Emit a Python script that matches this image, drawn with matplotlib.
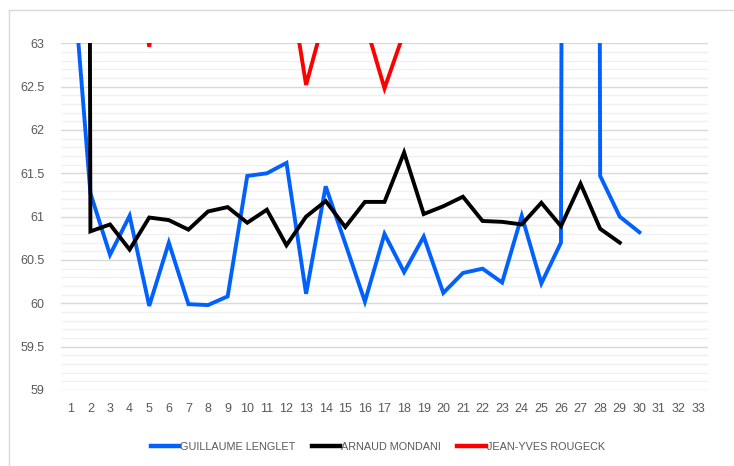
import numpy as np
import matplotlib
matplotlib.use('Agg')
import matplotlib.pyplot as plt
from matplotlib.lines import Line2D

plt.rcParams['font.family'] = ['Liberation Sans Narrow', 'Liberation Sans', 'DejaVu Sans']

# 読み取ったデータ（63より上は画面外なので推定値）
x = np.arange(1, 34)
nan = np.nan

lenglet = [64.1, 61.27, 60.56, 61.01, 59.97, 60.70, 59.99, 59.98, 60.08, 61.47,
           61.50, 61.62, 60.11, 61.35, 60.69, 60.02, 60.80, 60.36, 60.77, 60.12,
           60.35, 60.40, 60.24, 61.01, 60.23, 60.70, 150.0, 61.47, 61.00, 60.82,
           nan, nan, nan]
mondani = [150.0, 60.83, 60.91, 60.62, 60.99, 60.96, 60.85, 61.06, 61.11, 60.93,
           61.08, 60.67, 61.00, 61.18, 60.88, 61.17, 61.17, 61.74, 61.03, 61.12,
           61.23, 60.95, 60.94, 60.91, 61.16, 60.89, 61.38, 60.86, 60.70,
           nan, nan, nan, nan]
rougeck = [nan, nan, nan, 64.5, 62.96, 64.5, nan, nan, nan, nan,
           nan, 63.93, 62.52, 63.35, nan, 63.25, 62.48, 63.13, nan, nan,
           nan, nan, nan, nan, nan, nan, nan, nan, nan, nan,
           nan, nan, nan]

names = ['GUILLAUME LENGLET', 'ARNAUD MONDANI', 'JEAN-YVES ROUGECK']
colors = ['#0061ff', '#000000', '#ff0000']
series = [lenglet, mondani, rougeck]

W, H = 734, 466
fig = plt.figure(figsize=(W / 100, H / 100), dpi=100)
ax = fig.add_axes([61 / W, 1 - 390 / H, (708 - 61) / W, (390 - 43.3) / H])

# 外枠（右下は切れている）
fig.add_artist(Line2D([9 / W, 1], [1 - 10 / H, 1 - 10 / H], color='#d9d9d9', lw=1))
fig.add_artist(Line2D([9 / W, 9 / W], [0, 1 - 10 / H], color='#d9d9d9', lw=1))

for v in np.arange(59, 63.01, 0.1):
    major = abs(v * 2 - round(v * 2)) < 1e-6
    ax.axhline(v, color='#d9d9d9' if major else '#f0f0f0', lw=1.0, zorder=0)

for s, c, n in zip(series, colors, names):
    ax.plot(x, s, color=c, lw=2.8, label=n, solid_joinstyle='miter', zorder=3)

ax.set_xlim(0.5, 33.5)
ax.set_ylim(59, 63)
ax.set_xticks(x)
ax.set_xticklabels([str(i) for i in x])
ax.set_yticks([59, 59.5, 60, 60.5, 61, 61.5, 62, 62.5, 63])
ax.set_yticklabels(['59', '59.5', '60', '60.5', '61', '61.5', '62', '62.5', '63'])
ax.tick_params(length=0, labelsize=9, labelcolor='#595959')
ax.tick_params(axis='y', pad=12)
ax.tick_params(axis='x', pad=9)
for sp in ax.spines.values():
    sp.set_visible(False)

leg = fig.legend(loc='center', bbox_to_anchor=(378 / W, 1 - 446.7 / H), ncol=3,
                 frameon=False, fontsize=7.8, labelcolor='#595959',
                 handlelength=2.6, handletextpad=0.1, columnspacing=1.5)
for h in leg.legend_handles:
    h.set_linewidth(3.2)

fig.savefig('out.png', dpi=100)
